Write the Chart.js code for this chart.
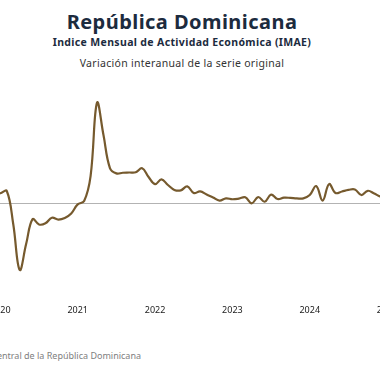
<!DOCTYPE html>
<html>
<head>
<meta charset="utf-8">
<script src="https://cdn.jsdelivr.net/npm/chart.js@4"></script>
<style>
  html, body { margin:0; padding:0; width:380px; height:380px; overflow:hidden; background:#fff; }
  .t { position:absolute; left:0; width:364px; text-align:center; white-space:nowrap; font-family:"Noto Sans", sans-serif; }
  #title { top:11.5px; font-size:20px; line-height:20px; font-weight:700; color:#1c2b3e; letter-spacing:0.45px; }
  #sub { top:37.4px; font-size:10.5px; line-height:10.5px; font-weight:700; color:#1c2b3e; letter-spacing:0.35px; }
  #sub2 { top:58px; font-size:10.5px; line-height:10.5px; color:#333; letter-spacing:0.3px; }
  #src { position:absolute; right:239px; top:351.3px; font-family:"Noto Sans", sans-serif; font-size:9px; line-height:9px; color:#808080; white-space:nowrap; }
  #wrap { position:absolute; left:-23px; top:0; width:427px; height:380px; }
</style>
</head>
<body>
<div class="t" id="title">República Dominicana</div>
<div class="t" id="sub">Indice Mensual de Actividad Económica (IMAE)</div>
<div class="t" id="sub2">Variación interanual de la serie original</div>
<div id="src">Fuente: Banco Central de la República Dominicana</div>
<div id="wrap"><canvas id="c"></canvas></div>
<script>
// Year-on-year variation (%), monthly
const years = [2019, 2020, 2021, 2022, 2023, 2024, 2025];
const firstMonth2019 = 10;
const v2019 = [5.0, 4.4, 4.2];                                   // Oct-Dec
const v2020 = [4.6, 5.6, -9.2, -29.8, -18.2, -7.0, -9.4, -8.9, -6.4, -7.2, -6.5, -4.5];
const v2021 = [-0.4, 1.1, 12.3, 45.2, 30.7, 15.9, 13.5, 13.8, 13.9, 14.0, 15.8, 11.9];
const v2022 = [8.7, 10.8, 8.3, 6.1, 5.9, 7.7, 4.7, 5.4, 4.0, 2.7, 1.3, 2.3];
const v2023 = [1.9, 2.2, 2.8, 0.1, 2.9, 0.8, 4.0, 2.0, 2.6, 2.5, 2.3, 2.3];
const v2024 = [3.8, 7.8, 1.3, 8.7, 4.7, 5.4, 6.1, 6.3, 3.8, 5.7, 4.5, 3.1];
const v2025 = [2.9, 3.5, 3.0];                                   // Jan-Mar
const tickYears = ['2020', '2021', '2022', '2023', '2024', '2025'];

const seriesByYear = [v2019, v2020, v2021, v2022, v2023, v2024, v2025];
const labels = [];
const values = [];
seriesByYear.forEach((arr, yi) => {
  const startM = yi === 0 ? firstMonth2019 : 1;
  arr.forEach((v, i) => {
    const m = startM + i;
    labels.push(years[yi] + '-' + String(m).padStart(2, '0'));
    values.push(v);
  });
});

new Chart(document.getElementById('c'), {
  type: 'line',
  data: {
    labels: labels,
    datasets: [{
      data: values,
      borderColor: '#765a2e',
      borderWidth: 2.2,
      pointRadius: 0,
      tension: 0.4,
      fill: false
    }]
  },
  options: {
    responsive: true,
    maintainAspectRatio: false,
    animation: false,
    layout: { padding: { top: 92, bottom: 60, left: 0, right: 0 } },
    plugins: { legend: { display: false }, tooltip: { enabled: false }, title: { display: false } },
    scales: {
      x: {
        offset: false,
        grid: { display: true, drawOnChartArea: false, drawTicks: true, tickLength: 8.5, color: 'rgba(0,0,0,0)' },
        border: { display: false },
        ticks: {
          autoSkip: false,
          maxRotation: 0,
          minRotation: 0,
          padding: 4,
          color: '#222',
          font: { family: 'Noto Sans', size: 9 },
          callback: function(val, idx) {
            const lab = labels[idx];
            if (lab.endsWith('-01')) {
              const y = lab.slice(0, 4);
              return tickYears.includes(y) ? y : '';
            }
            return '';
          }
        }
      },
      y: {
        min: -40,
        max: 50,
        ticks: { display: false, stepSize: 10 },
        border: { display: false },
        grid: {
          drawTicks: false,
          lineWidth: 1,
          color: ctx => ctx.tick && ctx.tick.value === 0 ? '#b3b3b3' : 'rgba(0,0,0,0)'
        }
      }
    }
  }
});
</script>
</body>
</html>
